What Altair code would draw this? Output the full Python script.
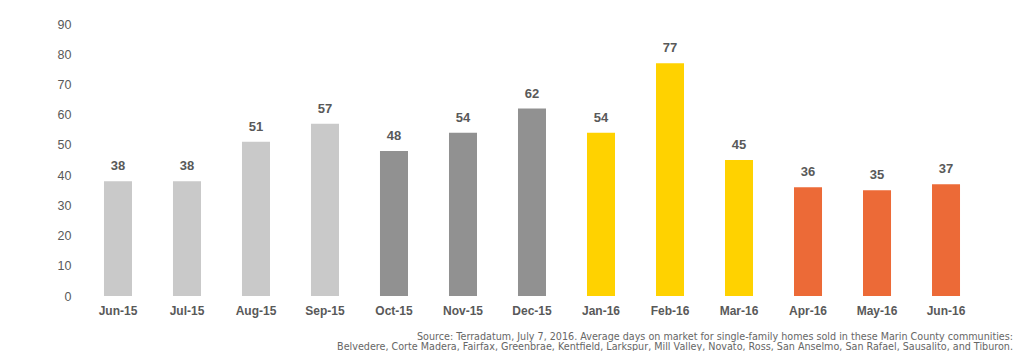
import altair as alt
import pandas as pd

months = ["Jun-15", "Jul-15", "Aug-15", "Sep-15", "Oct-15", "Nov-15", "Dec-15",
          "Jan-16", "Feb-16", "Mar-16", "Apr-16", "May-16", "Jun-16"]
days = [38, 38, 51, 57, 48, 54, 62, 54, 77, 45, 36, 35, 37]
groups = ["g1", "g1", "g1", "g1", "g2", "g2", "g2", "g3", "g3", "g3", "g4", "g4", "g4"]
group_names = ["g1", "g2", "g3", "g4"]
group_colors = ["#C9C9C9", "#919191", "#FFD200", "#EC6A37"]
y_ticks = [0, 10, 20, 30, 40, 50, 60, 70, 80, 90]
source_lines = [
    "Source: Terradatum, July 7, 2016. Average days on market for single-family homes sold in these Marin County communities:",
    "Belvedere, Corte Madera, Fairfax, Greenbrae, Kentfield, Larkspur, Mill Valley, Novato, Ross, San Anselmo, San Rafael, Sausalito, and Tiburon.",
]

df = pd.DataFrame({"month": months, "days": days, "group": groups})

FONT = "Liberation Sans"
TXT = "#595959"

base = alt.Chart(df).encode(
    x=alt.X(
        "month:N", sort=months, title=None,
        scale=alt.Scale(paddingInner=0.594, paddingOuter=0.304),
        axis=alt.Axis(labelAngle=0, domain=False, ticks=False, tickSize=0, labelPadding=9,
                      labelFontWeight="bold", labelFontSize=12, labelColor=TXT, labelFont=FONT),
    ),
    y=alt.Y(
        "days:Q", title=None, scale=alt.Scale(domain=[0, 90]),
        axis=alt.Axis(values=y_ticks, grid=False, domain=False, ticks=False, tickSize=0,
                      labelPadding=12, labelFontSize=12.5, labelColor=TXT, labelFont=FONT),
    ),
)

bars = base.mark_bar().encode(
    color=alt.Color("group:N", scale=alt.Scale(domain=group_names, range=group_colors), legend=None)
)
labels = base.mark_text(baseline="bottom", dy=-8, fontWeight="bold", fontSize=13,
                        color=TXT, font=FONT).encode(text="days:Q")

chart = (bars + labels).properties(
    width=898, height=272,
    autosize=alt.AutoSizeParams(type="none"),
    padding={"left": 75, "top": 16, "right": 34, "bottom": 55},
    title=alt.TitleParams(source_lines, orient="bottom", anchor="end", fontSize=9.6,
                          fontWeight="normal", color="#666666", font="DejaVu Sans", lineHeight=10,
                          offset=16, dx=32),
).configure_view(stroke=None)

chart.save("out.html", embed_options={"renderer": "svg", "actions": False})
